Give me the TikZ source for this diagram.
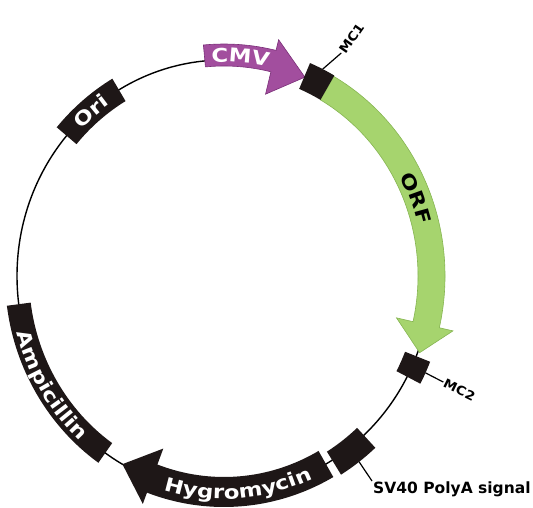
\documentclass[tikz,border=0pt]{standalone}
\usepackage{fontspec}
\setmainfont{DejaVu Sans}
\newfontfamily\bandfont[FakeStretch=1.2]{DejaVu Sans}
\newfontfamily\labfont[FakeStretch=1.1]{DejaVu Sans}
\usetikzlibrary{decorations.text}
\definecolor{cmvpurple}{HTML}{A24E9E}
\definecolor{cmvedge}{HTML}{7A2E78}
\definecolor{orfgreen}{HTML}{A6D46E}
\definecolor{orfedge}{HTML}{86B552}
\definecolor{boxblack}{HTML}{1E1717}
% band segment: #1 style, #2 start angle, #3 end angle, #4 inner offset, #5 outer offset
\newcommand{\bandseg}[5]{%
  \pgfmathsetmacro\rxa{207+#4}\pgfmathsetmacro\rya{216+#4}%
  \pgfmathsetmacro\rxb{207+#5}\pgfmathsetmacro\ryb{216+#5}%
  \fill[#1] (#2:\rxa pt and \rya pt)
    arc[start angle=#2, end angle=#3, x radius=\rxa pt, y radius=\rya pt]
    -- (#3:\rxb pt and \ryb pt)
    arc[start angle=#3, end angle=#2, x radius=\rxb pt, y radius=\ryb pt] -- cycle;}
% arrow: #1 style, #2 tail angle, #3 head base angle, #4 inner, #5 outer, #6 inner wing, #7 outer wing, #8 tip angle, #9 tip offset
\newcommand{\arrowseg}[9]{%
  \pgfmathsetmacro\rxa{207+#4}\pgfmathsetmacro\rya{216+#4}%
  \pgfmathsetmacro\rxb{207+#5}\pgfmathsetmacro\ryb{216+#5}%
  \pgfmathsetmacro\rxc{207+#6}\pgfmathsetmacro\ryc{216+#6}%
  \pgfmathsetmacro\rxd{207+#7}\pgfmathsetmacro\ryd{216+#7}%
  \pgfmathsetmacro\rxt{207+#9}\pgfmathsetmacro\ryt{216+#9}%
  \fill[#1] (#2:\rxa pt and \rya pt)
    arc[start angle=#2, end angle=#3, x radius=\rxa pt, y radius=\rya pt]
    -- (#3:\rxc pt and \ryc pt) -- (#8:\rxt pt and \ryt pt) -- (#3:\rxd pt and \ryd pt)
    -- (#3:\rxb pt and \ryb pt)
    arc[start angle=#3, end angle=#2, x radius=\rxb pt, y radius=\ryb pt] -- cycle;}
% curved text: #1 colour, #2 start angle, #3 end angle, #4 baseline offset, #5 text
\newcommand{\arctext}[5]{%
  \pgfmathsetmacro\rxa{207+#4}\pgfmathsetmacro\rya{216+#4}%
  \path[decorate, decoration={text along path, text align=center, text color=#1,
      text={|\bandfont\bfseries\fontsize{19}{19}\selectfont|#5}}]
    (#2:\rxa pt and \rya pt)
    arc[start angle=#2, end angle=#3, x radius=\rxa pt, y radius=\rya pt];}
\begin{document}
\begin{tikzpicture}[x=1pt,y=1pt,
  blackbox/.style={fill=boxblack},
  cmvfill/.style={fill=cmvpurple, draw=cmvedge, line width=0.6pt},
  orffill/.style={fill=orfgreen, draw=orfedge, line width=0.6pt},
  labtext/.style={font=\labfont\bfseries\fontsize{12.5}{12.5}\selectfont, inner sep=1pt, text=black},
  leader/.style={line width=1.2pt, draw=black}]
\useasboundingbox (0,0) rectangle (533,507);
\begin{scope}[shift={(224pt,231pt)}]
  % backbone
  \draw[line width=1.4pt] (0,0) ellipse [x radius=207pt, y radius=216pt];
  % CMV promoter arrow
  \arrowseg{cmvfill}{95.3}{76.5}{-6}{16}{-29}{27}{67}{0}
  \arctext{white}{101}{70}{-2}{CMV}
  % ORF arrow
  \arrowseg{orffill}{60.2}{-13}{-13}{14}{-30}{28}{-20.6}{2}
  \arctext{black}{56}{-13}{-7}{ORF}
  % MC1 / MC2 boxes
  \bandseg{blackbox}{60.2}{67.2}{-13}{15}
  \bandseg{blackbox}{-21.8}{-27.8}{-12}{15}
  % SV40 box
  \bandseg{blackbox}{-47.5}{-58.5}{-10}{17}
  % Hygromycin arrow
  \arrowseg{blackbox}{-60.5}{-110.3}{-15}{15}{-32}{27}{-119.4}{0}
  \arctext{white}{-124}{-48}{7}{Hygromycin}
  % Ampicillin
  \bandseg{blackbox}{187.5}{235}{-12}{12}
  \arctext{white}{176}{247}{7}{Ampicillin}
  % Ori
  \bandseg{blackbox}{139.5}{120.5}{-13}{13}
  \arctext{white}{150}{110}{-7}{Ori}
  % labels
  \coordinate (mc1o) at (63.6:222pt and 231pt);
  \node[labtext, rotate=55, anchor=west] (mc1) at (61.4:245pt and 254pt) {MC1};
  \draw[leader] (mc1o) -- (mc1.west);
  \coordinate (mc2o) at (-24.8:222pt and 231pt);
  \node[labtext, rotate=-26, anchor=west] (mc2) at (-25:242pt and 251pt) {MC2};
  \draw[leader] (mc2o) -- (mc2.west);
  \coordinate (svo) at (-52.9:224pt and 233pt);
\end{scope}
\node[font=\bfseries\fontsize{15.5}{15.5}\selectfont, anchor=north west, inner sep=1pt] (sv) at (372,26) {SV40 PolyA signal};
\draw[leader] (svo) -- (sv.north west);
\end{tikzpicture}
\end{document}
